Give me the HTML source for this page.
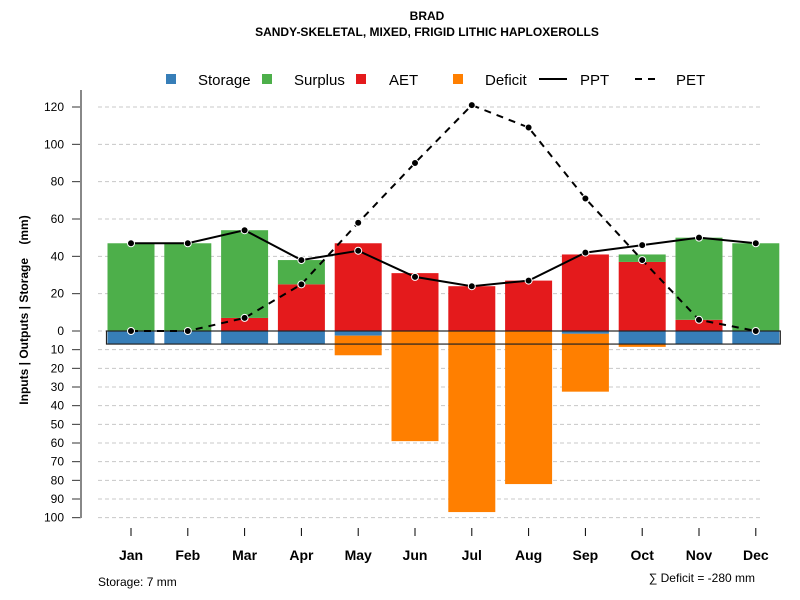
<!DOCTYPE html>
<html><head><meta charset="utf-8"><style>
body{margin:0;background:#fff;}
svg{display:block;font-family:"Liberation Sans",Arial,sans-serif;}
</style></head><body>
<svg id="chart" width="800" height="600" viewBox="0 0 800 600">
<text x="427" y="20" text-anchor="middle" font-size="12" font-weight="bold">BRAD</text>
<text x="427" y="36" text-anchor="middle" font-size="12" font-weight="bold">SANDY-SKELETAL, MIXED, FRIGID LITHIC HAPLOXEROLLS</text>
<g id="legend" font-size="15">
<rect x="166" y="74" width="10" height="10" fill="#377eb8"/>
<text x="198" y="85">Storage</text>
<rect x="262" y="74" width="10" height="10" fill="#4daf4a"/>
<text x="294" y="85">Surplus</text>
<rect x="356" y="74" width="10" height="10" fill="#e41a1c"/>
<text x="389" y="85">AET</text>
<rect x="453" y="74" width="10" height="10" fill="#ff7f00"/>
<text x="485" y="85">Deficit</text>
<line x1="539" y1="79" x2="567" y2="79" stroke="#000" stroke-width="2"/>
<text x="580" y="85">PPT</text>
<line x1="635" y1="79" x2="660" y2="79" stroke="#000" stroke-width="2" stroke-dasharray="7,6"/>
<text x="676" y="85">PET</text>
</g>
<text transform="translate(28,310) rotate(-90)" text-anchor="middle" font-size="12" font-weight="bold" xml:space="preserve">Inputs | Outputs | Storage    (mm)</text>
<g id="grid"></g><g id="bars"></g><g id="lines"></g><g id="axes"></g>
<text x="98" y="586" font-size="12">Storage: 7 mm</text>
<text x="755" y="582" text-anchor="end" font-size="12">∑ Deficit = -280 mm</text>
</svg>
<script>
const months=["Jan","Feb","Mar","Apr","May","Jun","Jul","Aug","Sep","Oct","Nov","Dec"];
const ppt=[47,47,54,38,43,29,24,27,42,46,50,47];
const pet=[0,0,7,25,58,90,121,109,71,38,6,0];
const aet=[0,0,7,25,47,31,24,27,41,37,6,0];
const surplus=[47,47,47,13,0,0,0,0,0,4,44,47];
const storage=[7,7,7,7,2.5,0,0,0,1.5,7,7,7];
const deficit=[0,0,0,0,10.5,59,97,82,31,1.5,0,0];
const posTicks=[0,20,40,60,80,100,120];
const negTicks=[10,20,30,40,50,60,70,80,90,100];
const maxStorage=7;
const NS="http://www.w3.org/2000/svg";
const y0=331,k=1.8667;
function yS(v){return y0-v*k;}
function xS(i){return 131+i*56.8;}
const bw=47;
function mk(tag,attrs,parent){const e=document.createElementNS(NS,tag);for(const a in attrs)e.setAttribute(a,attrs[a]);document.getElementById(parent).appendChild(e);return e;}
posTicks.forEach(t=>{
 const g=mk('line',{x1:98,x2:760,y1:yS(t),y2:yS(t),stroke:'#c8c8c8','stroke-dasharray':'4,3'},'grid');
 
 
 const tk=mk('line',{x1:72,x2:81,y1:yS(t),y2:yS(t),stroke:'#333'},'axes');
 
 
 const lb=mk('text',{x:64,y:yS(t)+4,'text-anchor':'end','font-size':12},'axes');lb.textContent=t;
 
 
});
negTicks.forEach(t=>{
 const g=mk('line',{x1:98,x2:760,y1:yS(-t),y2:yS(-t),stroke:'#c8c8c8','stroke-dasharray':'4,3'},'grid');
 
 
 const tk=mk('line',{x1:72,x2:81,y1:yS(-t),y2:yS(-t),stroke:'#333'},'axes');
 
 
 const lb=mk('text',{x:64,y:yS(-t)+4,'text-anchor':'end','font-size':12},'axes');lb.textContent=t;
 
 
});
const ax=mk('line',{x1:81,x2:81,y1:90,y2:518,stroke:'#888','stroke-width':2},'axes');


months.forEach((m,i)=>{
 const x=xS(i);
 const tk=mk('line',{x1:x,x2:x,y1:528,y2:536,stroke:'#000'},'axes');
 
 
 const lb=mk('text',{x:x,y:560,'text-anchor':'middle','font-size':14,'font-weight':'bold'},'axes');lb.textContent=m;
 
 
 const r1=mk('rect',{x:x-bw/2,y:yS(aet[i]),width:bw,height:aet[i]*k,fill:'#e41a1c'},'bars');
 
 
 const r2=mk('rect',{x:x-bw/2,y:yS(aet[i]+surplus[i]),width:bw,height:surplus[i]*k,fill:'#4daf4a'},'bars');
 
 
 const r3=mk('rect',{x:x-bw/2,y:y0,width:bw,height:storage[i]*k,fill:'#377eb8'},'bars');
 
 
 const r4=mk('rect',{x:x-bw/2,y:yS(-storage[i]),width:bw,height:deficit[i]*k,fill:'#ff7f00'},'bars');
 
 
});
const box=mk('rect',{x:xS(0)-bw/2-1,y:y0,width:xS(11)-xS(0)+bw+2,height:maxStorage*k,fill:'none',stroke:'#222','stroke-width':1.2},'bars');


function series(vals,dash,name){
 const p=mk('polyline',{points:vals.map((v,i)=>xS(i)+','+yS(v)).join(' '),fill:'none',stroke:'#000','stroke-width':2,'stroke-dasharray':dash},'lines');
 
 
 vals.forEach((v,i)=>{
  const c=mk('circle',{cx:xS(i),cy:yS(v),r:3.5,fill:'#000',stroke:'#fff','stroke-width':1},'lines');
  
  
 });
}
series(pet,'7,6','pet');
series(ppt,'none','ppt');
</script>
</body></html>
